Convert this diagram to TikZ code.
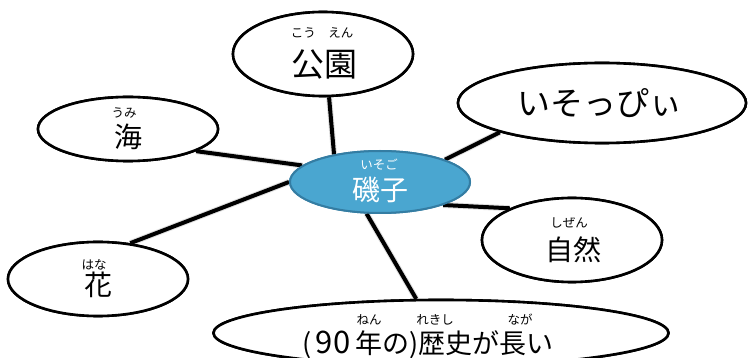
\documentclass[tikz,border=0pt]{standalone}
\usepackage{fontspec}
\newfontfamily\jp{Noto Sans CJK JP}
\usetikzlibrary{shapes.geometric}
\definecolor{hubfill}{RGB}{74,166,208}
\definecolor{hubedge}{RGB}{52,125,163}
\tikzset{
  bubble/.style={ellipse, draw=black, line width=2.6pt, fill=white, inner sep=0pt},
  hub/.style={ellipse, draw=hubedge, line width=2pt, fill=hubfill, inner sep=0pt},
  link/.style={line width=4pt, black},
  linkshadow/.style={line width=6pt, black!12, shift={(2pt,-3pt)}},
  furi/.style={font=\jp\fontsize{12.5}{12.5}\selectfont, inner sep=0pt},
  bigtxt/.style={font=\jp\fontsize{33}{33}\selectfont, inner sep=0pt},
  midtxt/.style={font=\jp\fontsize{28}{28}\selectfont, inner sep=0pt},
}
\begin{document}
\begin{tikzpicture}[x=1pt, y=-1pt]
\useasboundingbox (0,0) rectangle (748,358);
\clip (0,0) rectangle (748,358);
\fill[white] (0,0) rectangle (748,358);
% ellipses (positions)
\path
  node[bubble, minimum width=180pt, minimum height=84pt] (koen) at (323,54) {}
  node[bubble, minimum width=288pt, minimum height=80pt] (issy) at (602,103) {}
  node[bubble, minimum width=180pt, minimum height=64pt] (umi) at (128,129) {}
  node[bubble, minimum width=180pt, minimum height=74pt] (hana) at (98,279) {}
  node[bubble, minimum width=180pt, minimum height=84pt] (shizen) at (572,240) {}
  node[bubble, minimum width=455pt, minimum height=66pt] (rekishi) at (441,333) {}
  node[hub, minimum width=180pt, minimum height=62pt] (iso) at (380,182) {};
% connector shadows and connectors
\foreach \a/\b in {koen.-82/iso.149, issy.-164/iso.19, umi.-18/iso.168, hana.48/iso.180, shizen.153/iso.-20, rekishi.126/iso.-113}{
  \draw[linkshadow] (\a) -- (\b);
}
\foreach \a/\b in {koen.-82/iso.149, issy.-164/iso.19, umi.-18/iso.168, hana.48/iso.180, shizen.153/iso.-20, rekishi.126/iso.-113}{
  \draw[link] (\a) -- (\b);
}
% redraw ellipses on top
\node[bubble, minimum width=180pt, minimum height=84pt] (koenT) at (323,54) {};
\node[bubble, minimum width=288pt, minimum height=80pt] (issyT) at (602,103) {};
\node[bubble, minimum width=180pt, minimum height=64pt] (umiT) at (128,129) {};
\node[bubble, minimum width=180pt, minimum height=74pt] (hanaT) at (98,279) {};
\node[bubble, minimum width=180pt, minimum height=84pt] (shizenT) at (572,240) {};
\node[bubble, minimum width=455pt, minimum height=66pt] (rekishiT) at (441,333) {};
\node[hub, minimum width=180pt, minimum height=62pt] (isoT) at (380,182) {};
% texts
\node[furi] (koen-f) at (322,33) {こう　えん};
\node[bigtxt] (koen-t) at (324,65) {公園};
\node[bigtxt] (issy-t) at (600,103) {いそっぴぃ};
\node[furi] (umi-f) at (124,113) {うみ};
\node[midtxt] (umi-t) at (128,137) {海};
\node[furi] (hana-f) at (94,265) {はな};
\node[midtxt] (hana-t) at (98,285) {花};
\node[furi, white] (iso-f) at (379,165) {いそご};
\node[midtxt, white] (iso-t) at (380,190) {磯子};
\node[furi] (shizen-f) at (569,223) {しぜん};
\node[midtxt] (shizen-t) at (573,250) {自然};
\node[furi] (rek-f1) at (369,320) {ねん};
\node[furi] (rek-f2) at (435,320) {れきし};
\node[furi] (rek-f3) at (520,320) {なが};
\node[font=\jp\fontsize{27}{27}\selectfont, inner sep=0pt] (rek-t) at (428,345) {(\kern4pt{\fontsize{31}{31}\selectfont 9\kern1pt 0}\kern4pt 年の)歴史が長い};
\end{tikzpicture}
\end{document}
